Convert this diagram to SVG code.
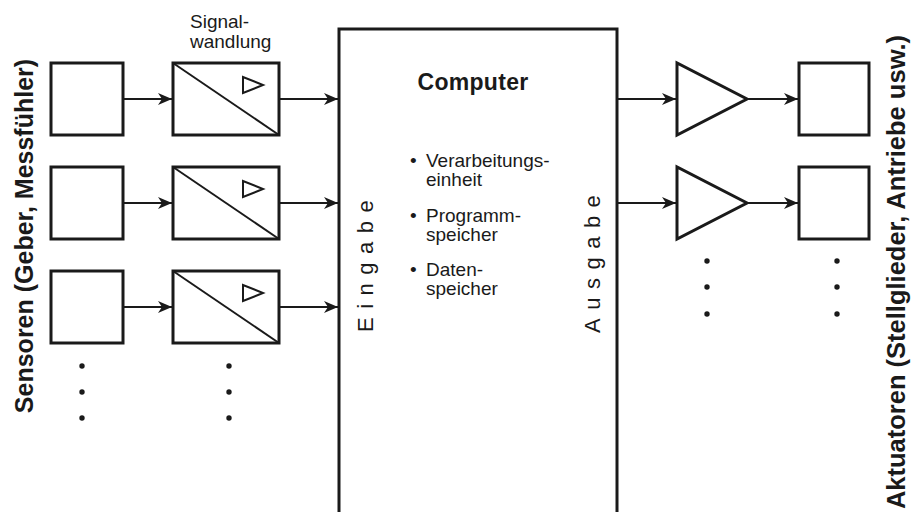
<svg xmlns="http://www.w3.org/2000/svg" width="911" height="512" viewBox="0 0 911 512">
<defs>
<style>
.box{fill:#fff;stroke:#1a1a1a;stroke-width:3}
.thin{fill:none;stroke:#1a1a1a;stroke-width:2}
.con{fill:none;stroke:#1a1a1a;stroke-width:2}
.t{font-family:"Liberation Sans",Arial,sans-serif;fill:#1a1a1a}
.dot{fill:#1a1a1a}
</style>
<marker id="ah" markerUnits="userSpaceOnUse" markerWidth="16" markerHeight="12" refX="14" refY="6" orient="auto">
<path d="M0,0 L14,6 L0,12 L4,6 z" fill="#1a1a1a"/>
</marker>
</defs>
<rect width="911" height="512" fill="#fff"/>

<text class="t" font-size="25" font-weight="bold" text-anchor="middle" transform="translate(33,236) rotate(-90)">Sensoren (Geber, Messfühler)</text>
<text class="t" font-size="25.5" font-weight="bold" text-anchor="middle" transform="translate(905,272) rotate(-90)">Aktuatoren (Stellglieder, Antriebe usw.)</text>

<g id="label-signal">
<text class="t" font-size="19" x="190" y="28">Signal-</text>
<text class="t" font-size="19" x="190" y="48">wandlung</text>
</g>

<g id="sensor1"><rect class="box" x="51" y="63" width="72" height="72"/></g>
<g id="sensor2"><rect class="box" x="51" y="167" width="72" height="72"/></g>
<g id="sensor3"><rect class="box" x="51" y="271" width="72" height="72"/></g>

<g id="conv1"><rect class="box" x="173" y="63" width="106" height="72"/><line class="thin" x1="173" y1="63" x2="279" y2="135"/><polygon class="thin" points="243,77 243,93 263,85"/></g>
<g id="conv2"><rect class="box" x="173" y="167" width="106" height="72"/><line class="thin" x1="173" y1="167" x2="279" y2="239"/><polygon class="thin" points="243,181 243,197 263,189"/></g>
<g id="conv3"><rect class="box" x="173" y="271" width="106" height="72"/><line class="thin" x1="173" y1="271" x2="279" y2="343"/><polygon class="thin" points="243,285 243,301 263,293"/></g>

<g id="computer">
<rect class="box" x="339" y="29" width="278" height="500"/>
<text class="t" font-size="23" font-weight="bold" text-anchor="middle" x="473" y="90" letter-spacing="0.3">Computer</text>
<text class="t" font-size="19"><tspan x="410" y="167">•</tspan><tspan x="426" y="167">Verarbeitungs-</tspan><tspan x="426" y="186">einheit</tspan><tspan x="410" y="222">•</tspan><tspan x="426" y="222">Programm-</tspan><tspan x="426" y="241">speicher</tspan><tspan x="410" y="276">•</tspan><tspan x="426" y="276">Daten-</tspan><tspan x="426" y="295">speicher</tspan></text>
<text class="t" font-size="22" letter-spacing="8.5" transform="translate(373,332) rotate(-90)">Eingabe</text>
<text class="t" font-size="22" letter-spacing="8.5" transform="translate(600,333) rotate(-90)">Ausgabe</text>
</g>

<g id="amp1"><polygon class="box" points="677,63 677,135 747,99"/></g>
<g id="amp2"><polygon class="box" points="677,167 677,239 747,203"/></g>
<g id="act1"><rect class="box" x="799" y="63" width="70" height="72"/></g>
<g id="act2"><rect class="box" x="799" y="167" width="70" height="72"/></g>

<g id="connectors">
<line class="con" x1="124" y1="99" x2="172" y2="99" marker-end="url(#ah)"/>
<line class="con" x1="124" y1="203" x2="172" y2="203" marker-end="url(#ah)"/>
<line class="con" x1="124" y1="307" x2="172" y2="307" marker-end="url(#ah)"/>
<line class="con" x1="280" y1="99" x2="338" y2="99" marker-end="url(#ah)"/>
<line class="con" x1="280" y1="203" x2="338" y2="203" marker-end="url(#ah)"/>
<line class="con" x1="280" y1="307" x2="338" y2="307" marker-end="url(#ah)"/>
<line class="con" x1="618" y1="99" x2="676" y2="99" marker-end="url(#ah)"/>
<line class="con" x1="618" y1="203" x2="676" y2="203" marker-end="url(#ah)"/>
<line class="con" x1="748" y1="99" x2="798" y2="99" marker-end="url(#ah)"/>
<line class="con" x1="748" y1="203" x2="798" y2="203" marker-end="url(#ah)"/>
</g>

<g id="dots">
<circle class="dot" cx="82" cy="366" r="2.7"/><circle class="dot" cx="82" cy="392" r="2.7"/><circle class="dot" cx="82" cy="418" r="2.7"/>
<circle class="dot" cx="229" cy="366" r="2.7"/><circle class="dot" cx="229" cy="392" r="2.7"/><circle class="dot" cx="229" cy="418" r="2.7"/>
<circle class="dot" cx="707" cy="261" r="2.7"/><circle class="dot" cx="707" cy="287" r="2.7"/><circle class="dot" cx="707" cy="314" r="2.7"/>
<circle class="dot" cx="837" cy="261" r="2.7"/><circle class="dot" cx="837" cy="287" r="2.7"/><circle class="dot" cx="837" cy="314" r="2.7"/>
</g>
</svg>
